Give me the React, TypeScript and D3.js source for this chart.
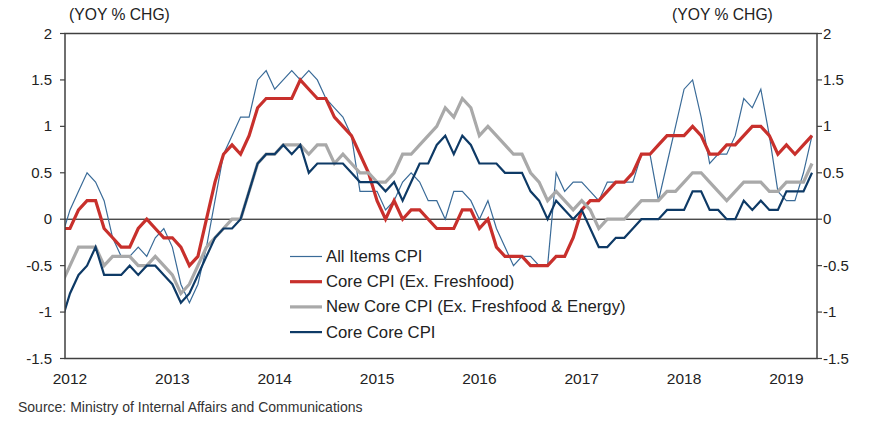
import React from "react";
import * as d3 from "d3";

// Monthly YoY % change, Dec 2011 (index -1) through Apr 2019 (index 87)
const startIndex = -1;

const allItemsCPI = [
  -0.2,
  0.1, 0.3, 0.5, 0.4, 0.2, -0.2, -0.4, -0.4, -0.3, -0.4, -0.2, -0.1,
  -0.3, -0.7, -0.9, -0.7, -0.3, 0.2, 0.7, 0.9, 1.1, 1.1, 1.5, 1.6,
  1.4, 1.5, 1.6, 1.5, 1.6, 1.5, 1.3, 1.2, 1.1, 0.9, 0.3, 0.3,
  0.3, 0.1, 0.2, 0.4, 0.5, 0.4, 0.2, 0.2, 0.0, 0.3, 0.3, 0.2,
  0.0, 0.2, -0.1, -0.3, -0.5, -0.4, -0.4, -0.5, -0.5, 0.5, 0.3, 0.4,
  0.4, 0.3, 0.2, 0.4, 0.4, 0.4, 0.4, 0.7, 0.7, 0.2, 0.6, 1.0,
  1.4, 1.5, 1.1, 0.6, 0.7, 0.7, 0.9, 1.3, 1.2, 1.4, 0.9, 0.3,
  0.2, 0.2, 0.5, 0.9,
];

const coreCPI = [
  -0.1,
  -0.1, 0.1, 0.2, 0.2, -0.1, -0.2, -0.3, -0.3, -0.1, 0.0, -0.1, -0.2,
  -0.2, -0.3, -0.5, -0.4, 0.0, 0.4, 0.7, 0.8, 0.7, 0.9, 1.2, 1.3,
  1.3, 1.3, 1.3, 1.5, 1.4, 1.3, 1.3, 1.1, 1.0, 0.9, 0.7, 0.5,
  0.2, 0.0, 0.2, 0.0, 0.1, 0.1, 0.0, -0.1, -0.1, -0.1, 0.1, 0.1,
  -0.1, 0.0, -0.3, -0.4, -0.4, -0.4, -0.5, -0.5, -0.5, -0.4, -0.4, -0.2,
  0.1, 0.2, 0.2, 0.3, 0.4, 0.4, 0.5, 0.7, 0.7, 0.8, 0.9, 0.9,
  0.9, 1.0, 0.9, 0.7, 0.7, 0.8, 0.8, 0.9, 1.0, 1.0, 0.9, 0.7,
  0.8, 0.7, 0.8, 0.9,
];

const newCoreCPI = [
  -0.7,
  -0.5, -0.3, -0.3, -0.3, -0.5, -0.4, -0.4, -0.4, -0.5, -0.5, -0.4, -0.5,
  -0.6, -0.8, -0.7, -0.5, -0.3, -0.2, -0.1, 0.0, 0.0, 0.3, 0.6, 0.7,
  0.7, 0.8, 0.8, 0.8, 0.7, 0.8, 0.8, 0.6, 0.7, 0.6, 0.5, 0.5,
  0.4, 0.4, 0.5, 0.7, 0.7, 0.8, 0.9, 1.0, 1.2, 1.1, 1.3, 1.2,
  0.9, 1.0, 0.9, 0.8, 0.7, 0.7, 0.5, 0.4, 0.2, 0.3, 0.2, 0.1,
  0.2, 0.1, -0.1, 0.0, 0.0, 0.0, 0.1, 0.2, 0.2, 0.2, 0.3, 0.3,
  0.4, 0.5, 0.5, 0.4, 0.3, 0.2, 0.3, 0.4, 0.4, 0.4, 0.3, 0.3,
  0.4, 0.4, 0.4, 0.6,
];

const coreCoreCPI = [
  -1.1,
  -0.8, -0.6, -0.5, -0.3, -0.6, -0.6, -0.6, -0.5, -0.6, -0.5, -0.5, -0.6,
  -0.7, -0.9, -0.8, -0.6, -0.4, -0.2, -0.1, -0.1, 0.0, 0.3, 0.6, 0.7,
  0.7, 0.8, 0.7, 0.8, 0.5, 0.6, 0.6, 0.6, 0.6, 0.5, 0.4, 0.4,
  0.4, 0.3, 0.4, 0.2, 0.4, 0.6, 0.6, 0.8, 0.9, 0.7, 0.9, 0.8,
  0.6, 0.6, 0.6, 0.5, 0.5, 0.5, 0.3, 0.2, 0.0, 0.2, 0.1, 0.0,
  0.1, -0.1, -0.3, -0.3, -0.2, -0.2, -0.1, 0.0, 0.0, 0.0, 0.1, 0.1,
  0.1, 0.3, 0.3, 0.1, 0.1, 0.0, 0.0, 0.2, 0.1, 0.2, 0.1, 0.1,
  0.3, 0.3, 0.3, 0.5,
];

const yearLabels = ["2012", "2013", "2014", "2015", "2016", "2017", "2018", "2019"];
const yTicks = [2, 1.5, 1, 0.5, 0, -0.5, -1, -1.5];
const legendLabels = [
  "All Items CPI",
  "Core CPI (Ex. Freshfood)",
  "New Core CPI (Ex. Freshfood & Energy)",
  "Core Core CPI",
];
const unitLabel = "(YOY % CHG)";
const sourceText = "Source: Ministry of Internal Affairs and Communications";

const seriesStyles = [
  { color: "#3a6b98", width: 1.2 },
  { color: "#c8302c", width: 3.2 },
  { color: "#a9a9a9", width: 3.2 },
  { color: "#0e3a66", width: 2.2 },
];

const W = 881;
const H = 430;
const left = 65;
const right = 817;
const top = 33.5;
const bottom = 358.5;
const FONT = "'Liberation Sans', Arial, sans-serif";

export default function App() {
  const x = d3.scaleLinear().domain([-0.586, 87.586]).range([left, right]);
  const y = d3.scaleLinear().domain([-1.5, 2]).range([bottom, top]);

  const allSeries = [allItemsCPI, coreCPI, newCoreCPI, coreCoreCPI];
  const line = d3
    .line<number>()
    .x((_, i) => x(i + startIndex))
    .y((d) => y(d));

  const fmt = (v: number) => (v === 0 ? "0" : String(v));

  return (
    <svg
      width={W}
      height={H}
      style={{ position: "absolute", left: 0, top: 0, background: "#fff" }}
      fontFamily={FONT}
    >
      <defs>
        <clipPath id="plotClip">
          <rect x={left} y={top - 5} width={right - left} height={bottom - top + 10} />
        </clipPath>
      </defs>

      {/* unit labels */}
      <text x={69} y={20} fontSize={15.7} fill="#222">{unitLabel}</text>
      <text x={672} y={20} fontSize={15.7} fill="#222">{unitLabel}</text>

      {/* zero line */}
      <line x1={left} x2={right} y1={y(0)} y2={y(0)} stroke="#000" strokeWidth={1} />

      {/* series */}
      <g clipPath="url(#plotClip)">
        {allSeries.map((s, k) => (
          <path
            key={k}
            d={line(s) || ""}
            fill="none"
            stroke={seriesStyles[k].color}
            strokeWidth={seriesStyles[k].width}
            strokeLinejoin="miter"
          />
        ))}
      </g>

      {/* frame */}
      <rect x={left} y={top} width={right - left} height={bottom - top} fill="none" stroke="#404040" strokeWidth={1.5} />

      {/* ticks + labels */}
      {yTicks.map((t) => (
        <g key={t}>
          <line x1={left - 5} x2={left} y1={y(t)} y2={y(t)} stroke="#404040" strokeWidth={1.2} />
          <line x1={right} x2={right + 5} y1={y(t)} y2={y(t)} stroke="#404040" strokeWidth={1.2} />
          <text x={52} y={y(t) + 5} fontSize={15} textAnchor="end" fill="#222">{fmt(t)}</text>
          <text x={823} y={y(t) + 5} fontSize={15} textAnchor="start" fill="#222">{fmt(t)}</text>
        </g>
      ))}

      {/* year labels */}
      {yearLabels.map((lab, k) => (
        <text key={lab} x={x(k * 12)} y={384} fontSize={15.5} textAnchor="middle" fill="#222">{lab}</text>
      ))}

      {/* legend */}
      {legendLabels.map((lab, k) => {
        const ly = 256.5 + k * 25.2;
        return (
          <g key={lab}>
            <line x1={290} x2={322} y1={ly} y2={ly} stroke={seriesStyles[k].color} strokeWidth={seriesStyles[k].width} />
            <text x={326} y={ly + 5.5} fontSize={16.7} fill="#222">{lab}</text>
          </g>
        );
      })}

      {/* source */}
      <text x={18} y={412} fontSize={14} fill="#333">{sourceText}</text>
    </svg>
  );
}
